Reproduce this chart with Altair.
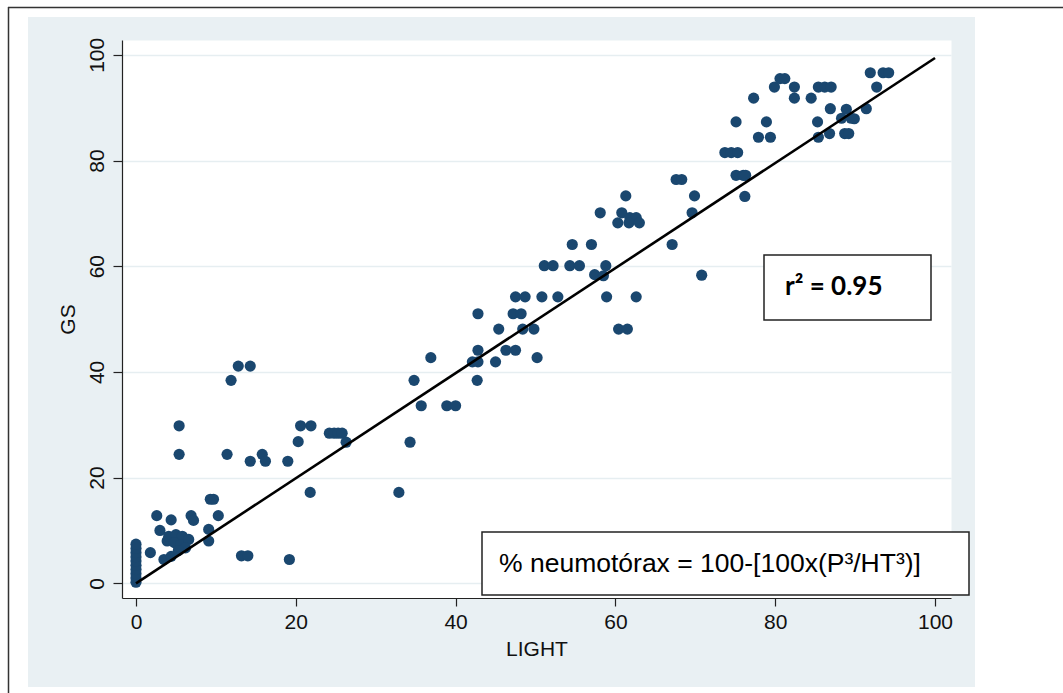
import altair as alt
import pandas as pd

# ---- data ----
light = [
    0, 0, 0, 0, 0, 0, 0, 0, 0, 0,
    1.8, 2.6, 3.0, 3.5, 4.4, 4.4, 3.9, 4.1, 5.0, 5.8, 4.8, 5.6, 6.6, 6.2, 5.3, 6.9, 7.2, 9.1, 9.1, 9.3, 9.7, 10.3, 5.4, 5.4,
    11.4, 11.9, 12.8, 14.3, 13.2, 14.0, 14.3, 15.8, 16.2, 19.0, 19.2, 20.3, 20.6, 21.9, 21.8, 24.2, 24.8, 25.3, 25.8, 26.3,
    32.9, 34.3, 34.8, 35.7, 36.9, 38.9, 40.0, 42.1, 42.8, 42.7, 42.8, 42.8, 45.0, 45.4, 46.3, 47.5, 47.2, 48.2, 47.5, 48.7, 48.4, 49.8, 50.2, 50.8,
    51.1, 52.2, 52.8, 54.3, 55.5, 54.6, 57.0, 57.4, 58.5, 58.8, 58.9, 58.1, 60.4, 61.5, 62.6, 60.3, 60.8, 61.3, 61.8, 62.6, 61.7, 63.0, 67.1, 67.6, 68.3, 69.9, 69.6, 70.8,
    73.7, 74.5, 75.3, 75.1, 75.1, 76.0, 76.3, 76.2, 77.3, 77.9, 79.4, 78.9, 79.9, 80.6, 81.2, 82.4, 82.4, 84.5, 85.4, 86.2, 87.0, 86.9, 85.3, 85.4, 86.8, 88.3, 88.9, 89.5, 89.9, 88.7, 89.2, 91.4, 91.9, 93.5, 94.2, 92.7,
]
gs = [
    0.2, 1.0, 1.8, 2.6, 3.4, 4.2, 5.0, 5.8, 6.6, 7.4,
    5.8, 12.8, 10.0, 4.5, 5.1, 12.0, 8.0, 8.9, 9.2, 8.9, 7.7, 7.3, 8.3, 6.7, 6.2, 12.8, 11.9, 10.2, 8.0, 15.9, 15.9, 12.8, 29.8, 24.4,
    24.4, 38.4, 41.1, 41.1, 5.2, 5.2, 23.1, 24.4, 23.1, 23.1, 4.5, 26.8, 29.8, 29.8, 17.2, 28.4, 28.4, 28.4, 28.4, 26.7,
    17.2, 26.7, 38.4, 33.6, 42.7, 33.6, 33.6, 41.9, 41.9, 38.4, 44.1, 51.0, 41.9, 48.1, 44.1, 44.1, 51.0, 51.0, 54.2, 54.2, 48.1, 48.1, 42.7, 54.2,
    60.1, 60.1, 54.2, 60.1, 60.1, 64.1, 64.1, 58.4, 58.2, 60.1, 54.2, 70.1, 48.1, 48.1, 54.2, 68.2, 70.1, 73.3, 69.2, 69.2, 68.2, 68.2, 64.1, 76.4, 76.4, 73.3, 70.1, 58.3,
    81.5, 81.5, 81.5, 87.3, 77.2, 77.2, 77.2, 73.2, 91.8, 84.4, 84.4, 87.3, 93.9, 95.5, 95.5, 93.9, 91.8, 91.8, 93.9, 93.9, 93.9, 89.8, 87.3, 84.4, 85.1, 88.0, 89.7, 88.0, 87.9, 85.1, 85.1, 89.8, 96.6, 96.6, 96.6, 93.9,
]
tick_values = [0, 20, 40, 60, 80, 100]
fit_light = [0, 100]
fit_gs = [0.0, 99.4]
r2_label = "r² = 0.95"
formula_label = "% neumotórax = 100-[100x(P³/HT³)]"

x_domain = [-1.75, 102.0]
y_domain = [-2.78, 102.8]

W, H = 829, 558
PAD_L, PAD_T = 122, 40

df = pd.DataFrame({"LIGHT": light, "GS": gs})
fit = pd.DataFrame({"LIGHT": fit_light, "GS": fit_gs})
one = alt.Data(values=[{"k": 1}])

xs = alt.Scale(domain=x_domain, nice=False, zero=False)
ys = alt.Scale(domain=y_domain, nice=False, zero=False)

FONT = "Liberation Sans"

x_axis = alt.Axis(values=tick_values, grid=False, title="LIGHT", tickSize=8,
                  labelPadding=5, titlePadding=6, format="d")
y_axis = alt.Axis(values=tick_values, grid=True, gridColor="#e6eef1", gridWidth=1.5,
                  title="GS", tickSize=9, labelAngle=-90, labelAlign="center",
                  labelBaseline="bottom", labelPadding=6, titlePadding=8, format="d")

points = alt.Chart(df).mark_circle(size=125, color="#1a476f", opacity=1).encode(
    x=alt.X("LIGHT:Q", scale=xs, axis=x_axis),
    y=alt.Y("GS:Q", scale=ys, axis=y_axis),
)

fit_line = alt.Chart(fit).mark_line(color="black", strokeWidth=2.6).encode(
    x=alt.X("LIGHT:Q", scale=xs),
    y=alt.Y("GS:Q", scale=ys),
)


def rect(x1, x2, y1, y2, **kw):
    return alt.Chart(one).mark_rect(**kw).encode(
        x=alt.value(x1 - PAD_L), x2=alt.value(x2 - PAD_L),
        y=alt.value(y1 - PAD_T), y2=alt.value(y2 - PAD_T),
    )


# page decorations (canvas coordinates converted to plot-relative)
white_right = rect(975, 1063, 0, 693, color="white")
white_top = rect(0, 1063, 0, 17, color="white")
white_left = rect(0, 28, 0, 693, color="white")
white_bottom = rect(0, 1063, 687, 693, color="white")
frame_top = alt.Chart(one).mark_rule(color="#333333", strokeWidth=1.5).encode(
    x=alt.value(8 - PAD_L), x2=alt.value(1063 - PAD_L), y=alt.value(7.5 - PAD_T))
frame_left = alt.Chart(one).mark_rule(color="#333333", strokeWidth=1.5).encode(
    x=alt.value(8.5 - PAD_L), y=alt.value(7 - PAD_T), y2=alt.value(693 - PAD_T))

box_r2 = rect(764, 931, 255, 320, fill="white", stroke="#222222", strokeWidth=1.5)
box_formula = rect(482, 969, 532, 595, fill="white", stroke="#222222", strokeWidth=1.5)

text_r2 = alt.Chart(one).mark_text(
    align="left", baseline="middle", font="Lato", fontWeight="bold", fontSize=26, color="black"
).encode(x=alt.value(785 - PAD_L), y=alt.value(287 - PAD_T), text=alt.value(r2_label))

text_formula = alt.Chart(one).mark_text(
    align="left", baseline="middle", font=FONT, fontSize=26.5, color="black"
).encode(x=alt.value(499 - PAD_L), y=alt.value(564 - PAD_T), text=alt.value(formula_label))

chart = alt.layer(
    white_right, white_top, white_left, white_bottom, frame_top, frame_left,
    points, fit_line, box_r2, box_formula, text_r2, text_formula,
).properties(
    width=W, height=H,
    autosize=alt.AutoSizeParams(type="none"),
    padding={"left": PAD_L, "top": PAD_T, "right": 1063 - PAD_L - W, "bottom": 693 - PAD_T - H},
    background="#e9f0f3",
).configure_view(
    fill="white", stroke="transparent"
).configure_axis(
    domainColor="#222222", domainWidth=1.2, tickColor="#222222", tickWidth=1.2,
    labelFont=FONT, labelFontSize=21, labelColor="#111111",
    titleFont=FONT, titleFontSize=21, titleFontWeight="normal", titleColor="#111111",
)

chart.save("out.html", embed_options={"renderer": "svg", "actions": False})
